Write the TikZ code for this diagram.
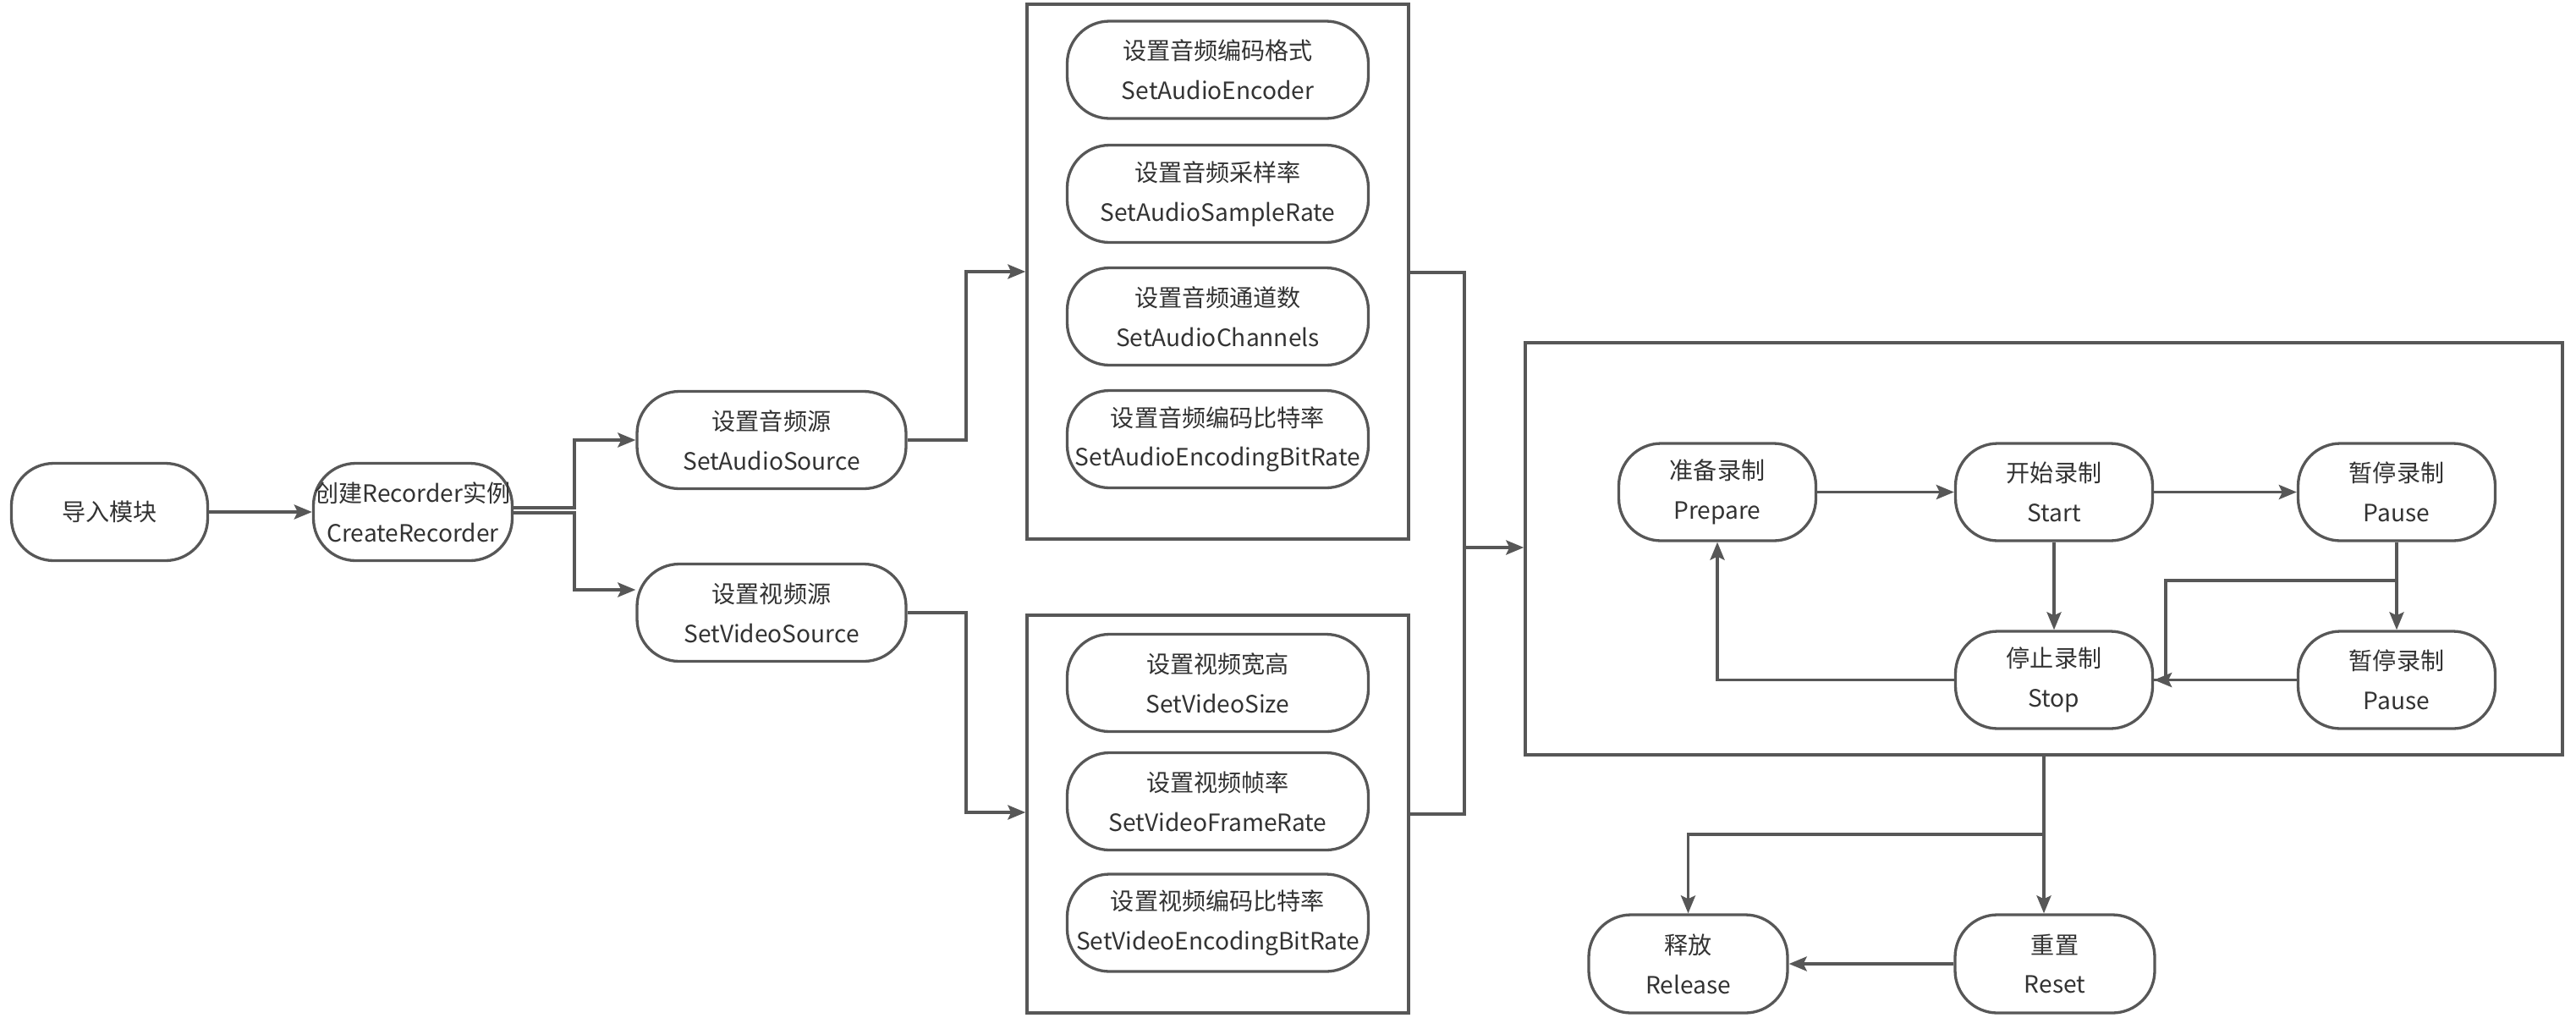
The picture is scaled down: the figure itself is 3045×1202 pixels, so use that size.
\documentclass[tikz,border=0pt]{standalone}
\usepackage{fontspec}
\setmainfont{Noto Sans CJK SC}
\usetikzlibrary{arrows.meta,calc}
\definecolor{lc}{HTML}{575757}
\definecolor{tc}{HTML}{333333}
\newcommand\nodefont{\fontsize{8pt}{13.3pt}\selectfont}
\begin{document}
\begin{tikzpicture}[x=0.1mm,y=-0.1mm,
 st/.style={draw=lc, line width=0.33mm, rounded corners=5mm, align=center, inner sep=0pt, text=tc, font=\nodefont, fill=white, minimum height=11.5mm},
 frame/.style={draw=lc, line width=0.35mm, inner sep=0pt},
 arr/.style={draw=lc, line width=0.37mm, -{Stealth[length=2.1mm,width=1.7mm,inset=0.4mm]}},
 ln/.style={draw=lc, line width=0.37mm},
]
\useasboundingbox (0,0) rectangle (3045,1202);

% frames
\node[frame, minimum width=45.1mm, minimum height=63.2mm] (abox) at (1439.5,321) {};
\node[frame, minimum width=45.1mm, minimum height=47mm] (vbox) at (1439.5,962) {};
\node[frame, minimum width=122.6mm, minimum height=48.7mm] (bbox) at (2416,648.5) {};

% left nodes
\node[st, minimum width=23.2mm] (imp) at (129.5,605) {导入模块};
\node[st, minimum width=23.5mm] (cr) at (488,605) {创建Recorder实例\\CreateRecorder};
\node[st, minimum width=31.8mm] (as) at (912,520) {设置音频源\\SetAudioSource};
\node[st, minimum width=31.8mm] (vs) at (912,724) {设置视频源\\SetVideoSource};

% audio group
\node[st, minimum width=35.6mm] (a1) at (1439.5,82.5) {设置音频编码格式\\SetAudioEncoder};
\node[st, minimum width=35.6mm] (a2) at (1439.5,229) {设置音频采样率\\SetAudioSampleRate};
\node[st, minimum width=35.6mm] (a3) at (1439.5,374) {设置音频通道数\\SetAudioChannels};
\node[st, minimum width=35.6mm] (a4) at (1439.5,519) {设置音频编码比特率\\SetAudioEncodingBitRate};

% video group
\node[st, minimum width=35.6mm] (v1) at (1439.5,807) {设置视频宽高\\SetVideoSize};
\node[st, minimum width=35.6mm] (v2) at (1439.5,947) {设置视频帧率\\SetVideoFrameRate};
\node[st, minimum width=35.6mm] (v3) at (1439.5,1090.5) {设置视频编码比特率\\SetVideoEncodingBitRate};

% state machine
\node[st, minimum width=23.3mm] (prep) at (2030,581.5) {准备录制\\Prepare};
\node[st, minimum width=23.3mm] (start) at (2428,581.5) {开始录制\\Start};
\node[st, minimum width=23.3mm] (pa1) at (2833,581.5) {暂停录制\\Pause};
\node[st, minimum width=23.3mm] (stop) at (2428,803.5) {停止录制\\Stop};
\node[st, minimum width=23.3mm] (pa2) at (2833,803.5) {暂停录制\\Pause};

% bottom
\node[st, minimum width=23.5mm, minimum height=11.6mm] (rel) at (1995.5,1139) {释放\\Release};
\node[st, minimum width=23.6mm, minimum height=11.6mm] (rst) at (2429,1139) {重置\\Reset};

% coordinates
\coordinate (c1) at (679,600);
\coordinate (c2) at (679,606);
\coordinate (c3) at (679,697);
\coordinate (j1) at (1142,321);
\coordinate (j2) at (1142,960);
\coordinate (m1) at (1731,322);
\coordinate (m2) at (1731,962);
\coordinate (m3) at (1731,647);
\coordinate (b1) at (2833,686);
\coordinate (b2) at (2560,686);
\coordinate (d1) at (2416,986);

% connectors
\draw[arr] (imp) -- (cr);
\draw[arr] (cr.east |- c1) -- (c1) |- (as);
\draw[arr] (cr.east |- c2) -- (c2) -- (c3) -- (vs.west |- c3);
\draw[arr] (as.east) -| (j1) -- (j1 -| abox.west);
\draw[arr] (vs.east) -| (j2) -- (j2 -| vbox.west);
\draw[ln] (abox.east |- m1) -| (m2) -- (vbox.east |- m2);
\draw[arr] (m3) -- (m3 -| bbox.west);

\draw[arr] (prep) -- (start);
\draw[arr] (start) -- (pa1);
\draw[arr] (start) -- (stop);
\draw[arr] (pa1) -- (pa2);
\draw[ln] (b1) -- (b2) |- (stop);
\draw[arr] (pa2) -- (stop);
\draw[arr] (stop) -| (prep);

\draw[arr] (bbox.south) -- (bbox.south |- rst.north);
\draw[arr] (d1) -| (rel);
\draw[arr] (rst) -- (rel);
\end{tikzpicture}
\end{document}
